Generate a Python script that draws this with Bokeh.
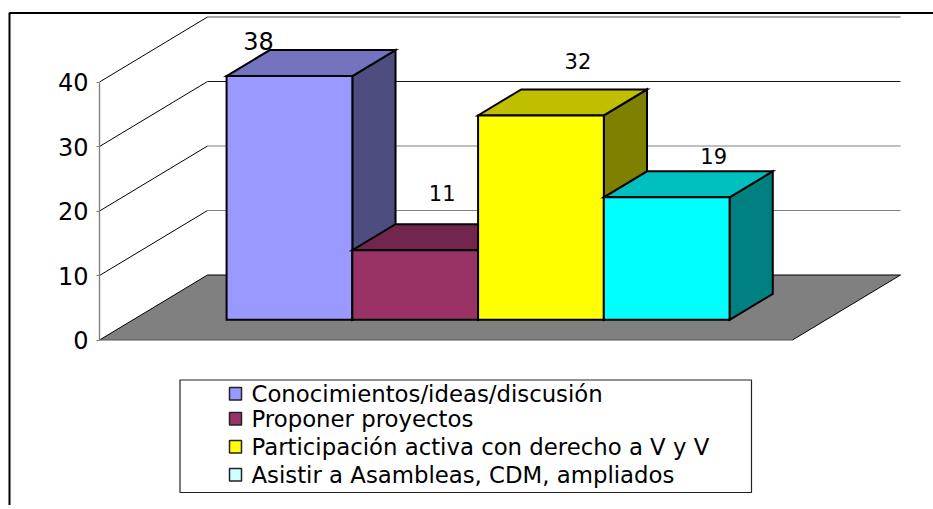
from bokeh.plotting import figure
from bokeh.models import FixedTicker, Range1d
from bokeh.core.properties import value
from bokeh.embed import file_html
from bokeh.resources import INLINE

categories = ["Conocimientos/ideas/discusión", "Proponer proyectos",
              "Participación activa con derecho a V y V", "Asistir a Asambleas, CDM, ampliados"]
heights = [37.8, 10.8, 31.7, 19.0]
ticks = [0, 10, 20, 30, 40]
front_colors = ["#9999FF", "#993366", "#FFFF00", "#00FFFF"]
top_colors = ["#7373BF", "#73264D", "#BFBF00", "#00BFBF"]
side_colors = ["#4D4D80", "#4D1A33", "#808000", "#008080"]
swatch_colors = ["#9999FF", "#993366", "#FFFF00", "#CCFFFF"]
grid_colors = ["#000000", "#808080", "#808080", "#111111", "#555555"]
label_dx = [-31, 27, 37, 47]
label_dy = [-35, -57, -54, -41]
label_sizes = ["24px", "21px", "21px", "21px"]
legend_rows = [393, 418, 446, 474]

W, H = 933, 505
AXIS_PX, ZERO_PX = 99.0, 339.5
SLOT_PX, UNIT_PX = 125.75, 6.45
DEPTH_X, DEPTH_Y = 108 / SLOT_PX, 65 / UNIT_PX
FLOOR_W = 693 / SLOT_PX
GAP = (FLOOR_W - len(heights)) / 2 - 1.4 / SLOT_PX
D1, D2 = 0.31, 0.71
FONT = "DejaVu Sans"


def X(px):
    return (px - AXIS_PX) / SLOT_PX


def Y(py):
    return (ZERO_PX - py) / UNIT_PX


def proj(x, v, d):
    return x + d * DEPTH_X, v + d * DEPTH_Y


def poly(pts):
    return [p[0] for p in pts], [p[1] for p in pts]


p = figure(width=W, height=H, output_backend="svg", toolbar_location=None,
           x_axis_type=None, min_border=0, outline_line_color=None,
           x_range=Range1d(X(0), X(W)), y_range=Range1d(Y(H), Y(0)))
p.grid.visible = False

ax = p.yaxis[0]
ax.fixed_location = 0
ax.bounds = (0, 40)
ax.ticker = FixedTicker(ticks=ticks)
ax.axis_line_color = "#808080"
ax.axis_line_width = 1.4
ax.major_tick_line_color = "#808080"
ax.major_tick_out = 3
ax.major_tick_in = 0
ax.minor_tick_line_color = None
ax.major_label_standoff = 8
ax.major_label_text_font = FONT
ax.major_label_text_font_size = "24px"
ax.major_label_text_color = "#000000"

# outer frame
p.line([X(9), X(9), X(W)], [Y(H), Y(12.5), Y(12.5)], line_color="#000000", line_width=2)

# floor
xs, ys = poly([proj(0, 0, 0), proj(FLOOR_W, 0, 0), proj(FLOOR_W, 0, 1), proj(0, 0, 1)])
p.patch(xs, ys, fill_color="#808080", line_color=None)
p.line(*poly([proj(FLOOR_W, 0, 0), proj(FLOOR_W, 0, 1), proj(0, 0, 1), proj(0, 0, 0)]),
       line_color="#000000", line_width=1)
p.line(*poly([proj(0, 0, 0), proj(FLOOR_W, 0, 0)]), line_color="#555555", line_width=1)

# walls
for t, c in zip(ticks[1:], grid_colors[1:]):
    p.line(*poly([proj(0, t, 0), proj(0, t, 1)]), line_color="#000000", line_width=1)
    p.line(*poly([proj(0, t, 1), proj(FLOOR_W, t, 1)]), line_color=c, line_width=1.2)

# bars
for i, h in enumerate(heights):
    x0 = GAP + i
    x1 = x0 + 1
    side = [proj(x1, 0, D1), proj(x1, 0, D2), proj(x1, h, D2), proj(x1, h, D1)]
    top = [proj(x0, h, D1), proj(x1, h, D1), proj(x1, h, D2), proj(x0, h, D2)]
    front = [proj(x0, 0, D1), proj(x1, 0, D1), proj(x1, h, D1), proj(x0, h, D1)]
    for pts, col in ((side, side_colors[i]), (top, top_colors[i]), (front, front_colors[i])):
        xs, ys = poly(pts)
        p.patch(xs, ys, fill_color=col, line_color="#000000", line_width=2, line_join="miter")
    cx, cy = proj(x0 + 0.5, h, D1)
    p.text([cx + label_dx[i] / SLOT_PX], [cy - label_dy[i] / UNIT_PX], text=[str(round(h))],
           text_font=value(FONT), text_font_size=value(label_sizes[i]),
           text_align="center", text_baseline="middle", text_color="#000000")

# legend
p.quad(left=[X(179.5)], right=[X(751)], top=[Y(379.5)], bottom=[Y(492)],
       fill_color="#FFFFFF", line_color="#222222", line_width=1.2)
for name, col, row in zip(categories, swatch_colors, legend_rows):
    p.quad(left=[X(229)], right=[X(241)], top=[Y(row - 6)], bottom=[Y(row + 6.5)],
           fill_color=col, line_color="#222222", line_width=1.5)
    p.text([X(251)], [Y(row)], text=[name], text_font=value(FONT),
           text_font_size=value("22.8px"), text_align="left", text_baseline="middle",
           text_color="#000000")

open("out.html", "w").write(file_html(p, INLINE))
